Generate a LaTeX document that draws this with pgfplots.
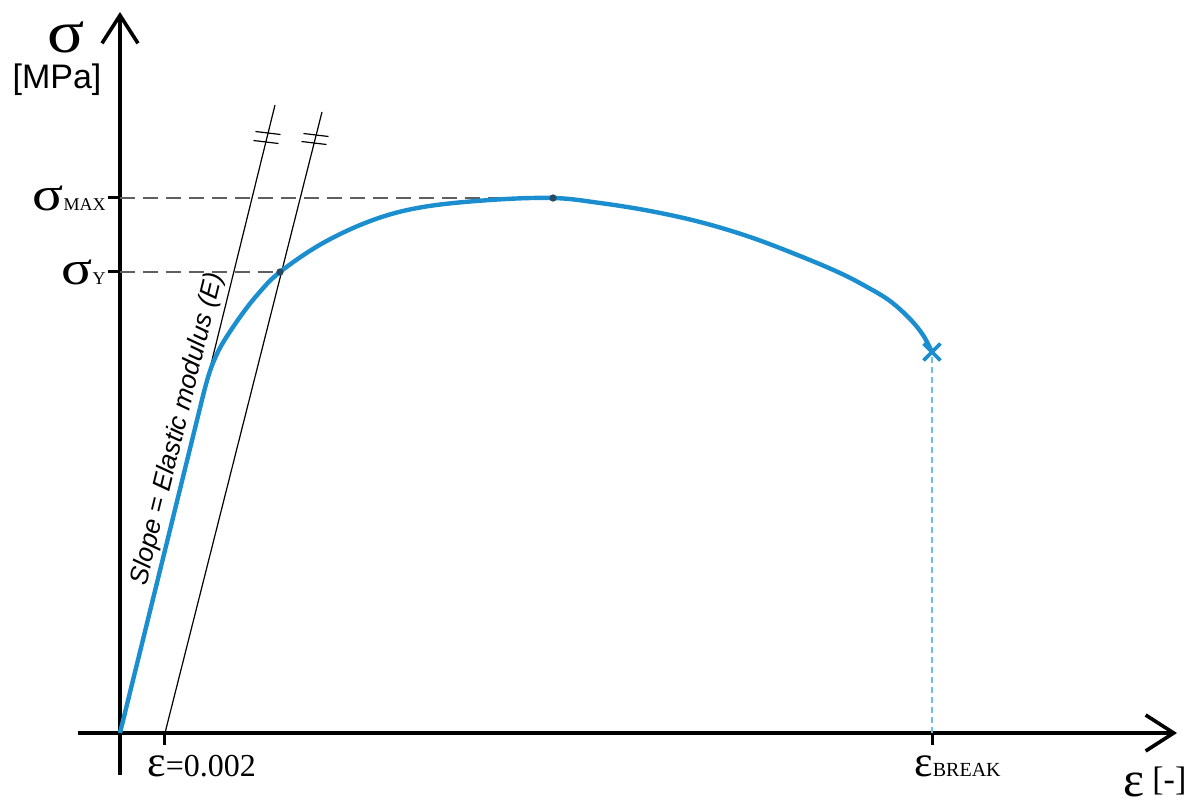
\documentclass[border=0pt]{standalone}
\usepackage{fontspec}
\setmainfont{Liberation Serif}
\newfontfamily\arial{Liberation Sans}
\usepackage{pgfplots}
\pgfplotsset{compat=1.18}
\usetikzlibrary{arrows.meta}
\definecolor{curve}{RGB}{27,142,208}
\definecolor{lightcurve}{RGB}{110,190,230}
\definecolor{dashgray}{RGB}{95,95,95}
\definecolor{dotc}{RGB}{40,75,100}
\newcommand{\fs}[1]{\fontsize{#1}{#1}\selectfont}
\newcommand{\wsig}{\scalebox{1.2}[1]{σ}}
\begin{document}
\begin{tikzpicture}
\begin{axis}[
  x=0.5pt, y=0.5pt,
  axis lines=middle,
  xmin=-42, xmax=1057, ymin=-42, ymax=721,
  enlargelimits=false,
  clip=false,
  axis line style={line width=1.8pt},
  every inner x axis line/.append style={-{Straight Barb[length=14pt,width=18pt]}},
  every inner y axis line/.append style={-{Straight Barb[length=14pt,width=18pt]}},
  xtick={45,812},
  xticklabels={{\fs{22}ε\fs{16}=0.002}, {\fs{22}ε\fs{10}BREAK}},
  ytick={461,535},
  yticklabels={{\fs{24}\wsig\fs{9}Y}, {\fs{24}\wsig\fs{9}MAX}},
  tick align=outside,
  major tick length=6pt,
  tick style={line width=1.5pt, black},
  xticklabel style={anchor=north west, xshift=-9pt, inner sep=0pt, yshift=-5pt},
  yticklabel style={anchor=east, inner sep=1pt},
]
% guide lines
\addplot[dashgray, line width=0.8pt, dash pattern=on 7.5pt off 4pt] coordinates {(0,535) (433,535)};
\addplot[dashgray, line width=0.8pt, dash pattern=on 7.5pt off 4pt] coordinates {(0,461) (160,461)};
\addplot[lightcurve, line width=1pt, dash pattern=on 3pt off 2pt] coordinates {(812,0) (812,381)};
% elastic lines
\addplot[black, line width=0.6pt] coordinates {(0,0) (155,628)};
\addplot[black, line width=0.6pt] coordinates {(45,0) (202,621)};
% break marks
\addplot[black, line width=0.6pt] coordinates {(135.5,601.5) (160.5,598.5)};
\addplot[black, line width=0.6pt] coordinates {(133.5,592.5) (158.5,589.5)};
\addplot[black, line width=0.6pt] coordinates {(183.5,599.5) (208.5,596.5)};
\addplot[black, line width=0.6pt] coordinates {(181.5,591.5) (206.5,588.5)};
% curve
\addplot[curve, line width=2.2pt] coordinates {(0,0) (80,325)};
\addplot[curve, line width=2.2pt, smooth, tension=0.6] coordinates {(80,325) (85,345) (90,362) (96,377) (104,392) (120,416) (138,439) (160,461) (203,490) (253,513) (303,526) (370,533) (433,535) (480,530) (530,522) (580,511) (630,496) (680,477) (720,460) (747,446) (770,432) (790,414) (803,398) (812,381)};
\addplot[only marks, mark=*, mark size=1.6pt, dotc] coordinates {(160,461) (433,535)};
\addplot[only marks, mark=x, mark size=6pt, curve, mark options={line width=1.8pt}] coordinates {(812,381)};
% texts
\node[rotate=76.2, anchor=south, inner sep=2pt, font=\arial\itshape\fs{13}] at (axis cs:74,300) {Slope = Elastic modulus (E)};
\node[font=\fs{30}] at (axis cs:-54,696) {\scalebox{1.15}[1]{σ}};
\node[font=\arial\fs{17}] at (axis cs:-63,653) {[MPa]};
\node[font=\fs{25}, anchor=base west, inner sep=0pt] at (axis cs:1003,-63) {ε};
\node[font=\fs{17}, anchor=base west, inner sep=0pt] at (axis cs:1032,-57) {[-]};
\path (axis cs:-120,-72) rectangle (axis cs:1071,733);
\end{axis}
\end{tikzpicture}
\end{document}
